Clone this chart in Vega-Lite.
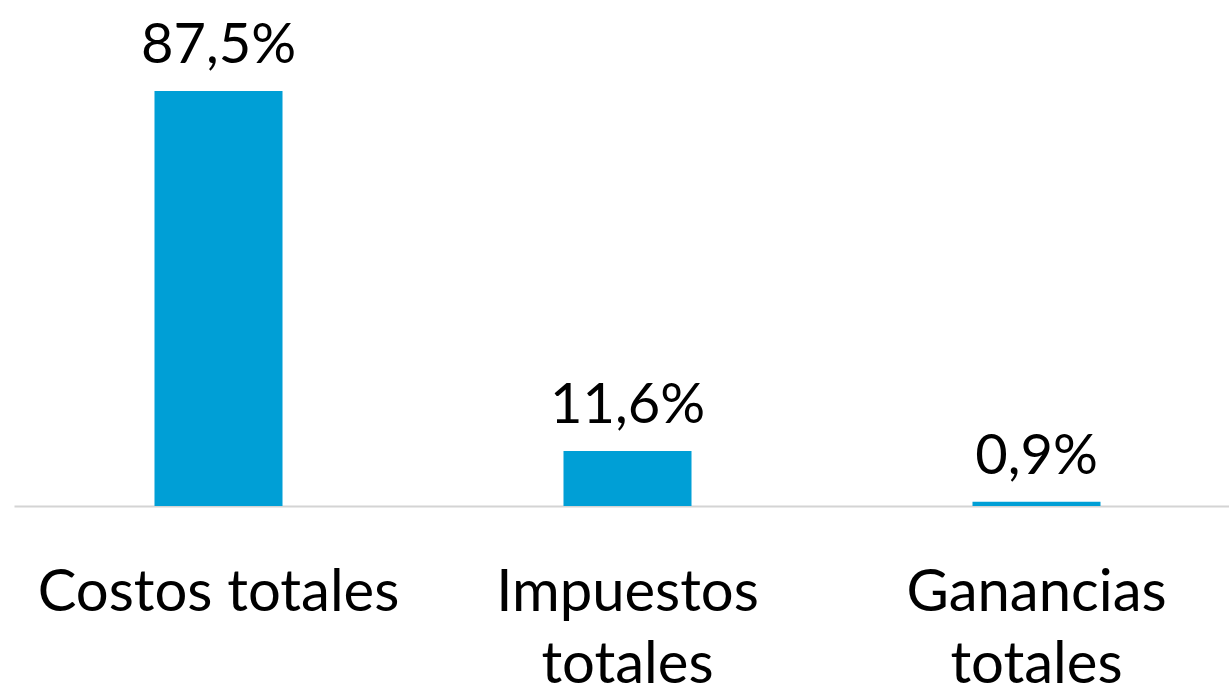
{
  "$schema": "https://vega.github.io/schema/vega-lite/v6.json",
  "autosize": {"type": "none"},
  "padding": {"left": 14, "top": 0, "right": 0, "bottom": 183},
  "width": 1227,
  "height": 506,
  "background": "white",
  "config": {
    "view": {"stroke": null},
    "locale": {"number": {"decimal": ",", "thousands": ".", "grouping": [3], "currency": ["", " €"]}},
    "font": "Lato"
  },
  "data": {
    "values": [
      {"categoria": "Costos totales", "participacion": 0.875},
      {"categoria": "Impuestos totales", "participacion": 0.116},
      {"categoria": "Ganancias totales", "participacion": 0.009}
    ]
  },
  "encoding": {
    "x": {
      "field": "categoria",
      "type": "nominal",
      "sort": null,
      "scale": {"paddingInner": 0.687, "paddingOuter": 0.3435},
      "axis": {
        "title": null,
        "labelAngle": 0,
        "labelFont": "Lato",
        "labelFontSize": 58,
        "labelColor": "#000000",
        "labelLineHeight": 72,
        "labelPadding": 104,
        "labelBaseline": "alphabetic",
        "labelExpr": "datum.value == 'Costos totales' ? datum.value : split(datum.value, ' ')",
        "ticks": false,
        "domainColor": "#d4d4d4",
        "domainWidth": 2,
        "labelOverlap": false,
        "labelLimit": 0
      }
    },
    "y": {
      "field": "participacion",
      "type": "quantitative",
      "scale": {"domain": [0, 1.067], "nice": false, "zero": true},
      "axis": null
    }
  },
  "layer": [
    {"mark": {"type": "bar", "color": "#009FD6"}},
    {
      "mark": {"type": "text", "baseline": "alphabetic", "dy": -28, "fontSize": 56, "font": "Lato", "color": "#000000"},
      "encoding": {"text": {"field": "participacion", "type": "quantitative", "format": ".1%"}}
    }
  ]
}
